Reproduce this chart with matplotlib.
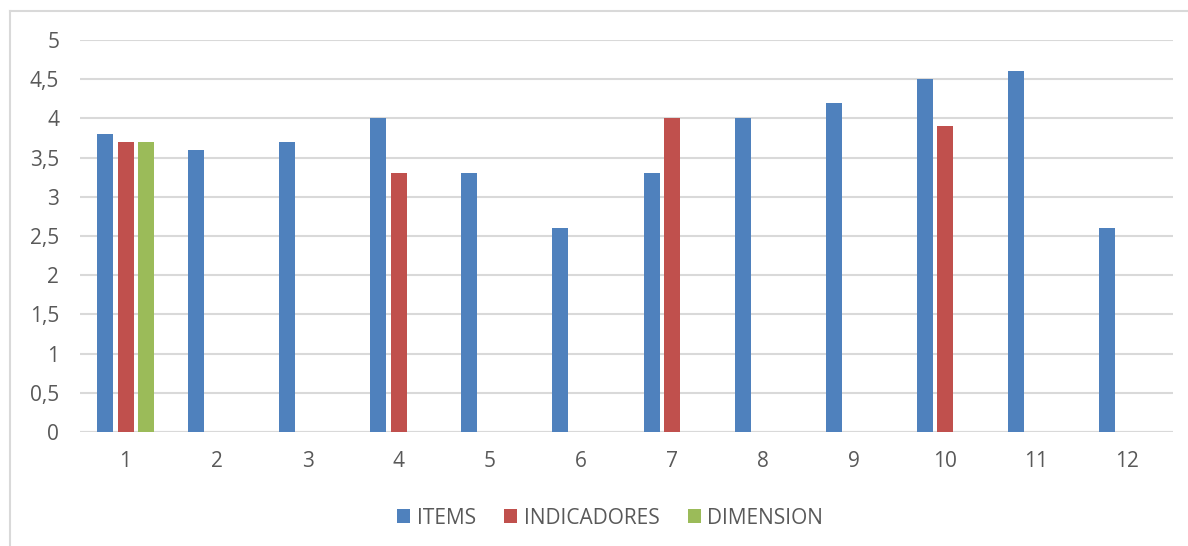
import numpy as np
import matplotlib.pyplot as plt
from matplotlib.lines import Line2D

# puntajes por grupo
grupos = [str(i) for i in range(1, 13)]
items = [3.8, 3.6, 3.7, 4.0, 3.3, 2.6, 3.3, 4.0, 4.2, 4.5, 4.6, 2.6]
indicadores = [3.7, np.nan, np.nan, 3.3, np.nan, np.nan, 4.0, np.nan, np.nan, 3.9, np.nan, np.nan]
dimension = [3.7, np.nan, np.nan, np.nan, np.nan, np.nan, np.nan, np.nan, np.nan, np.nan, np.nan, np.nan]

series = [("ITEMS", items, "#4f81bd"),
          ("INDICADORES", indicadores, "#c0504d"),
          ("DIMENSION", dimension, "#9bbb59")]

plt.rcParams['font.family'] = ['Open Sans', 'DejaVu Sans']

fig = plt.figure(figsize=(11.88, 5.46), dpi=100)
ax = fig.add_axes([80 / 1188, 1 - 432 / 546, 1093 / 1188, 392 / 546])

x = np.arange(1, len(grupos) + 1)
paso = 0.225
ancho = 0.176
for k, (nombre, vals, color) in enumerate(series):
    ax.bar(x + (k - 1) * paso, vals, width=ancho, color=color, label=nombre,
           zorder=3)

ax.set_xlim(0.5, 12.5)
ax.set_ylim(0, 5)
ax.set_yticks(np.arange(0, 5.01, 0.5))
ax.set_yticklabels([f"{v:g}".replace(".", ",") for v in np.arange(0, 5.01, 0.5)])
ax.set_xticks(x)
ax.set_xticklabels(grupos)

ax.grid(axis='y', color='#d9d9d9', linewidth=1.5, zorder=0)
for s in ax.spines.values():
    s.set_visible(False)
ax.axhline(0, color='#d9d9d9', linewidth=1.5, zorder=1)
ax.tick_params(axis='both', length=0, labelsize=15, labelcolor='#595959')
ax.tick_params(axis='y', pad=15)
ax.tick_params(axis='x', pad=14)

fig.legend(loc='center', bbox_to_anchor=(610 / 1188, 1 - 518 / 546), ncol=3,
           frameon=False, fontsize=15, labelcolor='#595959',
           handlelength=0.65, handleheight=0.65, handletextpad=0.3,
           columnspacing=1.35)

# marco del gráfico
borde = '#d9d9d9'
fig.add_artist(Line2D([10 / 1188, 10 / 1188], [0, 1 - 11 / 546],
                      color=borde, linewidth=1.5, transform=fig.transFigure))
fig.add_artist(Line2D([10 / 1188, 1], [1 - 11 / 546, 1 - 11 / 546],
                      color=borde, linewidth=1.5, transform=fig.transFigure))

fig.savefig('out.png', dpi=100)
